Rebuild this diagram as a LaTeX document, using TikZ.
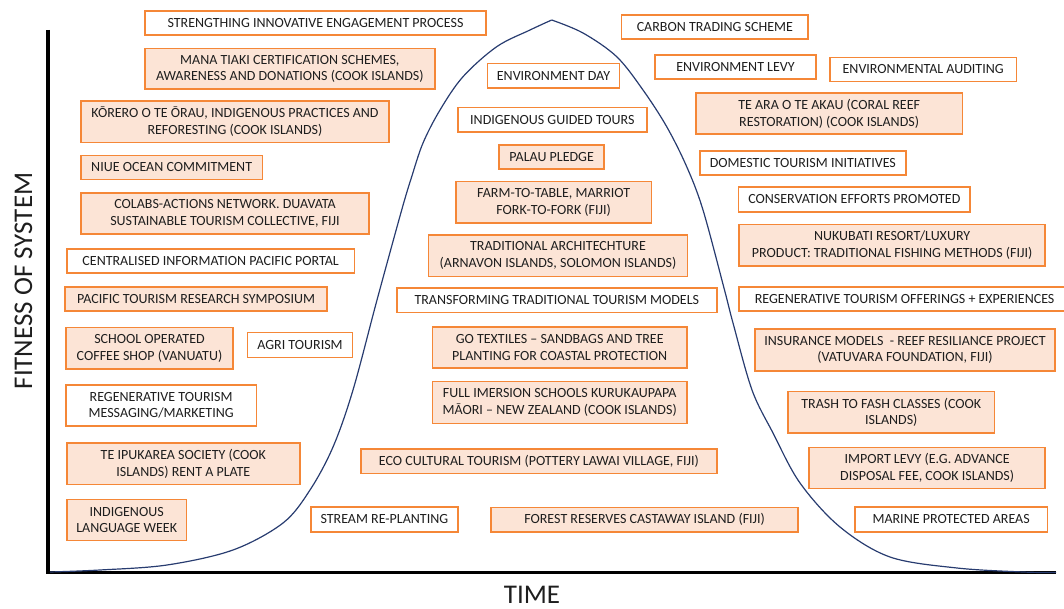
\documentclass[tikz,border=0pt]{standalone}
\usepackage{fontspec}
\setmainfont{Carlito}

\definecolor{boxline}{RGB}{245,135,55}
\definecolor{boxfill}{RGB}{252,228,214}
\definecolor{curveblue}{RGB}{40,60,112}
\definecolor{ink}{RGB}{30,30,30}

\tikzset{
  base/.style={draw=boxline, line width=1.8pt, align=center, inner sep=1pt,
    text=ink, font=\fontsize{14}{16.8}\selectfont},
  plain/.style={base, fill=white},
  shaded/.style={base, fill=boxfill},
  axisline/.style={line width=3.3pt, draw=black},
  lifecurve/.style={line width=1.2pt, draw=curveblue},
  axislabel/.style={text=ink, inner sep=0pt, font=\fontsize{27}{32}\selectfont},
}

% box given by style, name, left, top, right, bottom, text
\newcommand\placebox[7]{%
  \node[#1, minimum width={#5-#3-1.6}, minimum height={#6-#4-1.6}]
    (#2) at ({(#3+#5)/2},{(#4+#6)/2}) {#7};}

\begin{document}
\begin{tikzpicture}[x=1pt, y=-1pt]
  \clip (0,0) rectangle (1064,609);

  % axes
  \coordinate (ytop) at (48,30);
  \coordinate (origin) at (48,572.5);
  \coordinate (xend) at (1056,572.5);
  \draw[axisline] (ytop) -- (origin) -- (xend);

  % rising and falling branches of the curve, meeting at a sharp peak
  \draw[lifecurve] plot[smooth, tension=0.55] coordinates {
    (50,572) (100,570) (167,565) (233,550) (283,523) (310,490) (333,447)
    (353,390) (377,300) (401.7,210) (411.7,176.7) (423,143) (440,110)
    (463,76.7) (496.7,46.7) (530,30) (551.7,20)};
  \draw[lifecurve] plot[smooth, tension=0.55] coordinates {
    (551.7,20) (583,33) (616.7,56.7) (643,90) (666.7,126.7) (686.7,166.7)
    (703,210) (724.5,290) (733,323) (752,390) (773,433) (800,483) (840,527)
    (890,557) (957,568) (1023,572) (1056,572.5)};

  % axis titles
  \node[axislabel, rotate=90, anchor=base] (ylabel) at (32,281) {FITNESS OF SYSTEM};
  \node[axislabel, anchor=base] (xlabel) at (532,603) {TIME};

  % left side
  \placebox{plain}{strength}{144}{10}{487}{36}{STRENGTHING INNOVATIVE ENGAGEMENT PROCESS}
  \placebox{shaded}{mana}{144}{47.7}{435.7}{90}{MANA TIAKI CERTIFICATION SCHEMES,\\AWARENESS AND DONATIONS (COOK ISLANDS)}
  \placebox{shaded}{korero}{80}{100}{390}{143.3}{KŌRERO O TE ŌRAU, INDIGENOUS PRACTICES AND\\REFORESTING (COOK ISLANDS)}
  \placebox{shaded}{niue}{80}{154.7}{263.3}{180.3}{NIUE OCEAN COMMITMENT}
  \placebox{shaded}{colabs}{80}{192.3}{370}{235}{COLABS-ACTIONS NETWORK. DUAVATA\\SUSTAINABLE TOURISM COLLECTIVE, FIJI}
  \placebox{plain}{portal}{66}{248.3}{355.3}{274}{CENTRALISED INFORMATION PACIFIC PORTAL}
  \placebox{shaded}{symposium}{64.3}{286}{328}{311.7}{PACIFIC TOURISM RESEARCH SYMPOSIUM}
  \placebox{shaded}{coffee}{65}{326.7}{234}{370}{SCHOOL OPERATED\\COFFEE SHOP (VANUATU)}
  \placebox{plain}{agri}{246.7}{331.7}{353.3}{358.3}{AGRI TOURISM}
  \placebox{plain}{messaging}{65}{384}{257.3}{426.7}{REGENERATIVE TOURISM\\MESSAGING/MARKETING}
  \placebox{shaded}{ipukarea}{66}{442}{300.7}{485.3}{TE IPUKAREA SOCIETY (COOK\\ISLANDS) RENT A PLATE}
  \placebox{shaded}{language}{66}{498.7}{187.3}{541.3}{INDIGENOUS\\LANGUAGE WEEK}
  \placebox{plain}{stream}{310}{506}{458.7}{532.7}{STREAM RE-PLANTING}

  % under the peak
  \placebox{plain}{envday}{486.7}{62.7}{620.3}{88.7}{ENVIRONMENT DAY}
  \placebox{plain}{guided}{457}{106.7}{647.7}{132.7}{INDIGENOUS GUIDED TOURS}
  \placebox{shaded}{palau}{498.3}{144}{605}{170}{PALAU PLEDGE}
  \placebox{shaded}{farm}{455}{180.7}{652.3}{224}{FARM-TO-TABLE, MARRIOT\\FORK-TO-FORK (FIJI)}
  \placebox{shaded}{architecture}{427.7}{234}{688.3}{277.3}{TRADITIONAL ARCHITECHTURE\\(ARNAVON ISLANDS, SOLOMON ISLANDS)}
  \placebox{plain}{transforming}{396}{287.3}{717.7}{313.3}{TRANSFORMING TRADITIONAL TOURISM MODELS}
  \placebox{shaded}{textiles}{431.7}{326}{687.7}{369}{GO TEXTILES – SANDBAGS AND TREE\\PLANTING FOR COASTAL PROTECTION}
  \placebox{shaded}{immersion}{431.7}{380.7}{687.7}{424.3}{FULL IMERSION SCHOOLS KURUKAUPAPA\\MĀORI – NEW ZEALAND (COOK ISLANDS)}
  \placebox{shaded}{ecocultural}{360}{448.3}{717.7}{474.3}{ECO CULTURAL TOURISM (POTTERY LAWAI VILLAGE, FIJI)}
  \placebox{shaded}{forest}{490.3}{506.7}{799}{532.7}{FOREST RESERVES CASTAWAY\ ISLAND (FIJI)}

  % right side
  \placebox{plain}{carbon}{620.7}{14}{809}{40}{CARBON TRADING SCHEME}
  \placebox{plain}{levy}{654.3}{54}{816.7}{80}{ENVIRONMENT LEVY}
  \placebox{plain}{auditing}{829}{56.7}{1017.3}{82.3}{ENVIRONMENTAL AUDITING}
  \placebox{shaded}{coral}{695}{92}{963.3}{135}{TE ARA O TE AKAU (CORAL REEF\\RESTORATION) (COOK ISLANDS)}
  \placebox{plain}{domestic}{699}{150}{906.7}{176}{DOMESTIC TOURISM INITIATIVES}
  \placebox{plain}{conservation}{737.7}{186}{971}{212.7}{CONSERVATION EFFORTS PROMOTED}
  \placebox{shaded}{nukubati}{738.3}{223.7}{1046}{266.7}{NUKUBATI RESORT/LUXURY\\PRODUCT: TRADITIONAL FISHING METHODS (FIJI)}
  \placebox{plain}{offerings}{738.3}{286}{1071}{312}{REGENERATIVE TOURISM OFFERINGS + EXPERIENCES}
  \placebox{shaded}{insurance}{754.3}{328.3}{1055.7}{371.7}{INSURANCE MODELS\ \ - REEF RESILIANCE PROJECT\\(VATUVARA FOUNDATION, FIJI)}
  \placebox{shaded}{trash}{787.3}{390.7}{995.3}{434}{TRASH TO FASH CLASSES (COOK\\ISLANDS)}
  \placebox{shaded}{import}{808.3}{446.7}{1046}{489.3}{IMPORT LEVY (E.G. ADVANCE\\DISPOSAL FEE, COOK ISLANDS)}
  \placebox{plain}{marine}{854}{506}{1048.3}{532.7}{MARINE PROTECTED AREAS}
\end{tikzpicture}
\end{document}
